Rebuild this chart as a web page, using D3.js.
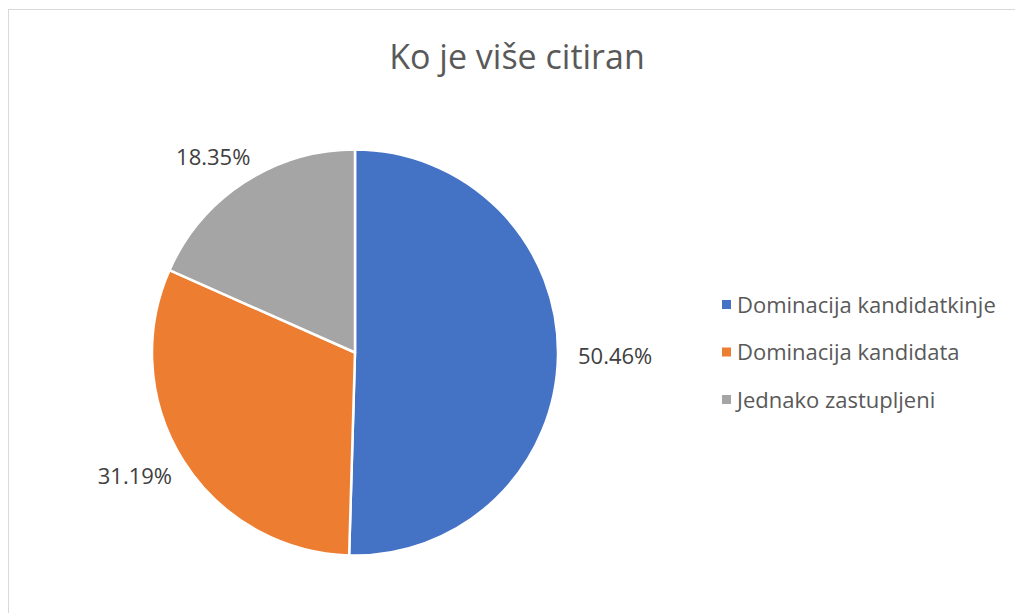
<!DOCTYPE html>
<html>
<head>
<meta charset="utf-8">
<script src="https://cdn.jsdelivr.net/npm/d3@7.9.0/dist/d3.min.js"></script>
<style>
  body { margin: 0; background: #fff; }
  svg { display: block; font-family: 'Open Sans', 'Noto Sans', sans-serif; }
</style>
</head>
<body>
<svg id="chart" width="1015" height="613"></svg>
<script>
const title = 'Ko je više citiran';
const categories = ['Dominacija kandidatkinje', 'Dominacija kandidata', 'Jednako zastupljeni'];
const values = [50.46, 31.19, 18.35];
const colors = ['#4472c4', '#ed7d31', '#a5a5a5'];

const svg = d3.select('#chart');

// chart frame
svg.append('rect')
  .attr('x', 8.5).attr('y', 9.5)
  .attr('width', 1020).attr('height', 620)
  .attr('fill', '#fff')
  .attr('stroke', '#d9d9d9')
  .attr('stroke-width', 1);

svg.append('text')
  .attr('x', 517).attr('y', 69)
  .attr('text-anchor', 'middle')
  .attr('font-size', 34)
  .attr('fill', '#595959')
  .text(title);

const cx = 355, cy = 352.5, radius = 203;
const data = categories.map((c, i) => ({ label: c, value: values[i] }));

const pie = d3.pie().value((d) => d.value).sort(null);
const arc = d3.arc().innerRadius(0).outerRadius(radius);
const labelArc = d3.arc().innerRadius(radius + 20).outerRadius(radius + 20);
const arcData = pie(data);

const g = svg.append('g').attr('transform', `translate(${cx},${cy})`);

g.selectAll('path')
  .data(arcData)
  .join('path')
  .attr('d', arc)
  .attr('fill', (d, i) => colors[i])
  .attr('stroke', '#fff')
  .attr('stroke-width', 2.5)
  .attr('stroke-linejoin', 'round');

// labels sit outside the edge, pushed away from the pie by half their box
g.selectAll('text.pct')
  .data(arcData)
  .join('text')
  .attr('class', 'pct')
  .attr('text-anchor', 'middle')
  .attr('dy', '0.35em')
  .attr('font-size', 22)
  .attr('fill', '#404040')
  .text((d) => d.value.toFixed(2) + '%')
  .each(function (d) {
    const box = this.getBBox();
    const a = (d.startAngle + d.endAngle) / 2;
    const [x, y] = labelArc.centroid(d);
    const tx = x + Math.sin(a) * box.width / 2;
    const ty = y - Math.cos(a) * box.height / 3;
    d3.select(this).attr('transform', `translate(${tx},${ty})`);
  });

const legend = svg.append('g').attr('transform', 'translate(722,305)');
data.forEach((d, i) => {
  const row = legend.append('g').attr('transform', `translate(0,${i * 47.5})`);
  row.append('rect')
    .attr('x', 0).attr('y', -5)
    .attr('width', 9).attr('height', 9)
    .attr('fill', colors[i]);
  row.append('text')
    .attr('x', 15).attr('y', 0)
    .attr('dy', '0.35em')
    .attr('font-size', 22)
    .attr('fill', '#595959')
    .text(d.label);
});
</script>
</body>
</html>
